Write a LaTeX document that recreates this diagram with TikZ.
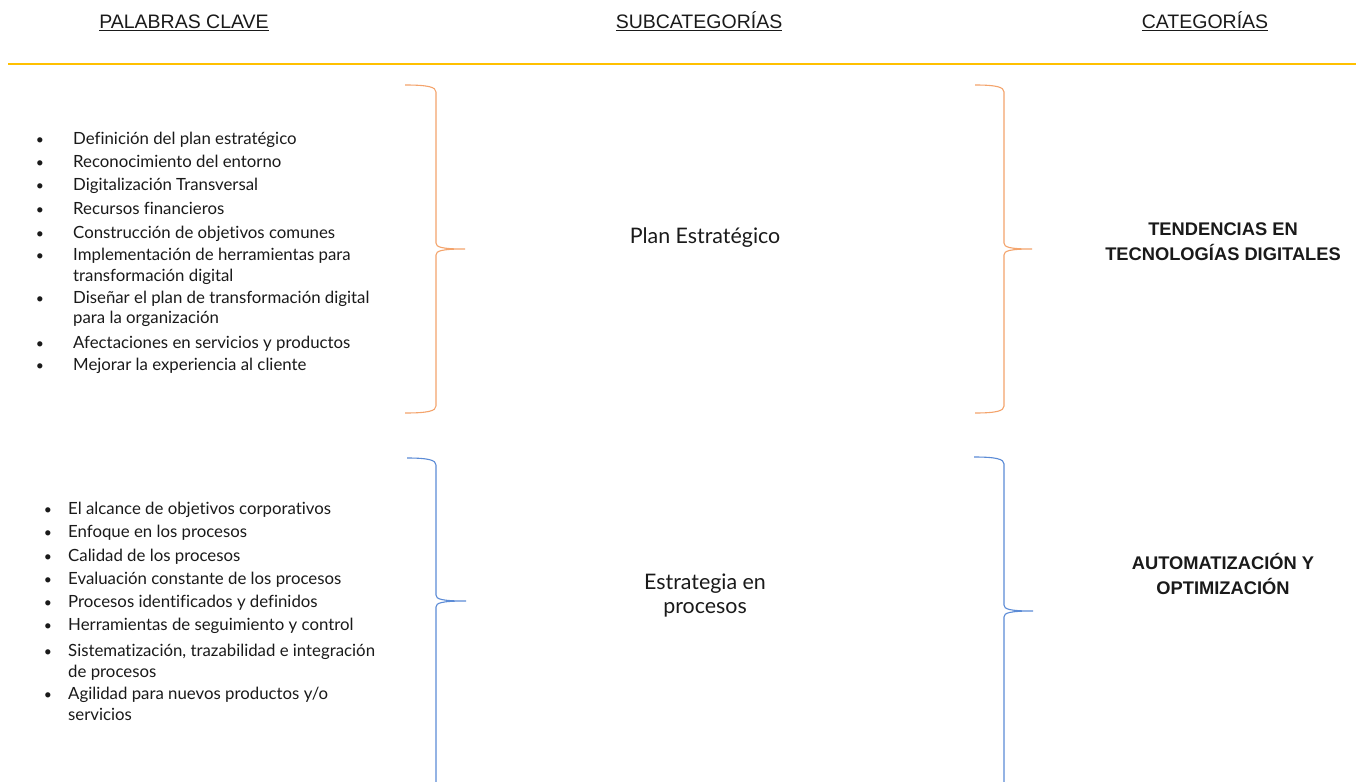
\documentclass[tikz,border=0pt]{standalone}
\usepackage{fontspec}
\setmainfont{Lato}[Ligatures={NoCommon}]
\newfontfamily\hfont{Liberation Sans}
\definecolor{bor}{HTML}{F4A46C}
\definecolor{bbl}{HTML}{5B8BD6}
\definecolor{yel}{HTML}{FFC000}
\definecolor{txt}{HTML}{1A1A1A}
\newcommand\curlyb[6]{(#1,#4) .. controls ({#2-8},#4) and (#2,{#4+2}) .. (#2,{#4+7}) -- (#2,{#5-6}) .. controls (#2,{#5-2}) and ({#2+5},#5) .. (#3,#5) .. controls ({#2+5},#5) and (#2,{#5+2}) .. (#2,{#5+6}) -- (#2,{#6-7}) .. controls (#2,{#6-2}) and ({#2-8},#6) .. (#1,#6)}
\begin{document}
\begin{tikzpicture}[x=1pt,y=-1pt,
  hdr/.style={anchor=base,inner sep=0,font=\hfont\fontsize{19.5}{22}\selectfont,text=txt},
  kw/.style={anchor=base west,inner sep=0,font=\fontsize{16.8}{19}\selectfont,text=txt},
  bul/.style={anchor=base,inner sep=0,font=\fontsize{14}{16}\selectfont,text=txt},
  sub/.style={anchor=base,inner sep=0,font=\fontsize{21.4}{25}\selectfont,text=txt},
  cat/.style={anchor=base,inner sep=0,font=\hfont\bfseries\fontsize{18.3}{21}\selectfont,text=txt},
  br/.style={line width=1.1pt}]
\useasboundingbox (0,0) rectangle (1356,781);
\fill[white] (0,0) rectangle (1356,781);
% headers
\node[hdr] (h1) at (184,29) {\underline{PALABRAS CLAVE}};
\node[hdr] (h2) at (699,29) {\underline{SUBCATEGORÍAS}};
\node[hdr] (h3) at (1205,29) {\underline{CATEGORÍAS}};
\draw[yel,line width=1.2pt] (8,64) -- (1356,64);
% list 1
\foreach \y in {144,167,190,214,238,260,303,348,370}
  \node[bul] at (40,\y) {\textbullet};
\node[kw] (a1) at (73,144) {Definición del plan estratégico};
\node[kw] (a2) at (73,167) {Reconocimiento del entorno};
\node[kw] (a3) at (73,190) {Digitalización Transversal};
\node[kw] (a4) at (73,214) {Recursos financieros};
\node[kw] (a5) at (73,238) {Construcción de objetivos comunes};
\node[kw] (a6) at (73,260) {Implementación de herramientas para};
\node[kw] (a6b) at (73,281) {transformación digital};
\node[kw] (a7) at (73,303) {Diseñar el plan de transformación digital};
\node[kw] (a7b) at (73,323) {para la organización};
\node[kw] (a8) at (73,348) {Afectaciones en servicios y productos};
\node[kw] (a9) at (73,370) {Mejorar la experiencia al cliente};
% list 2
\foreach \y in {514,537,561,584,607,630,656,699}
  \node[bul] at (48,\y) {\textbullet};
\node[kw] (b1) at (68,514) {El alcance de objetivos corporativos};
\node[kw] (b2) at (68,537) {Enfoque en los procesos};
\node[kw] (b3) at (68,561) {Calidad de los procesos};
\node[kw] (b4) at (68,584) {Evaluación constante de los procesos};
\node[kw] (b5) at (68,607) {Procesos identificados y definidos};
\node[kw] (b6) at (68,630) {Herramientas de seguimiento y control};
\node[kw] (b7) at (68,656) {Sistematización, trazabilidad e integración};
\node[kw] (b7b) at (68,677) {de procesos};
\node[kw] (b8) at (68,699) {Agilidad para nuevos productos y/o};
\node[kw] (b8b) at (68,720) {servicios};
% subcategories
\node[sub] (s1) at (705,243) {Plan Estratégico};
\node[sub] (s2) at (705,589) {Estrategia en};
\node[sub] (s2b) at (705,613) {procesos};
% categories
\node[cat] (c1) at (1223,235) {TENDENCIAS EN};
\node[cat] (c1b) at (1223,260) {TECNOLOGÍAS DIGITALES};
\node[cat] (c2) at (1223,569) {AUTOMATIZACIÓN Y};
\node[cat] (c2b) at (1223,594) {OPTIMIZACIÓN};
% braces
\draw[br,bor] \curlyb{405}{436}{465}{85}{249}{413};
\draw[br,bor] \curlyb{975}{1004}{1032}{85}{249}{413};
\draw[br,bbl] \curlyb{407}{436}{466}{458}{601}{800};
\draw[br,bbl] \curlyb{974}{1004}{1033}{457}{611}{800};
\end{tikzpicture}
\end{document}
